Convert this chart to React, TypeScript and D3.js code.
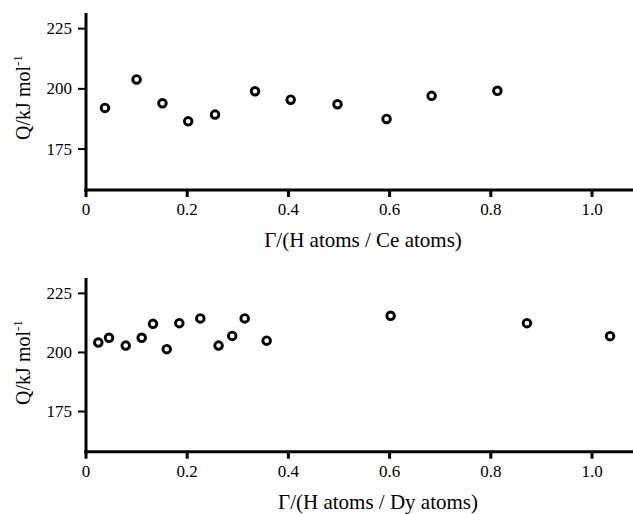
import React from "react";
import * as d3 from "d3";

const ceX = [0.0375, 0.1, 0.151, 0.202, 0.255, 0.334, 0.4045, 0.497, 0.594, 0.683, 0.813];
const ceQ = [192.1, 203.9, 194.0, 186.5, 189.3, 199.0, 195.5, 193.6, 187.5, 197.1, 199.2];

const dyX = [0.0243, 0.0455, 0.0785, 0.1101, 0.1324, 0.1595, 0.1844, 0.2259, 0.262, 0.289, 0.3136, 0.357, 0.602, 0.8715, 1.0356];
const dyQ = [204.2, 206.2, 202.9, 206.2, 212.1, 201.4, 212.4, 214.4, 202.9, 207.0, 214.4, 205.0, 215.5, 212.4, 206.9];

const xTicks = [0, 0.2, 0.4, 0.6, 0.8, 1.0];
const xTickLabels = ["0", "0.2", "0.4", "0.6", "0.8", "1.0"];
const yTicks = [175, 200, 225];

const FONT = "'Liberation Serif', 'Times New Roman', serif";

type PanelProps = {
  top: number;
  bottom: number;
  xs: number[];
  ys: number[];
  element: string;
  labelX: number;
};

function Panel({ top, bottom, xs, ys, element, labelX }: PanelProps) {
  const left = 86;
  const x = d3.scaleLinear().domain([0, 1.08]).range([left, 632.5]);
  const y = d3.scaleLinear().domain([158, 231.5]).range([bottom, top]);
  const pts = xs.map((v, i) => [v, ys[i]]);
  const midY = top + 84.5;
  return (
    <g>
      <line x1={left} x2={left} y1={top} y2={bottom + 1.5} stroke="#000" strokeWidth={3} />
      <line x1={left - 1.5} x2={633} y1={bottom} y2={bottom} stroke="#000" strokeWidth={3} />
      {yTicks.map((t) => (
        <g key={t}>
          <line x1={left - 8} x2={left} y1={y(t)} y2={y(t)} stroke="#000" strokeWidth={2} />
          <text x={left - 14} y={y(t) + 5.5} textAnchor="end" fontSize={17} fontFamily={FONT}>
            {t}
          </text>
        </g>
      ))}
      {xTicks.map((t, i) => (
        <g key={t}>
          <line x1={x(t)} x2={x(t)} y1={bottom} y2={bottom + 7} stroke="#000" strokeWidth={3} />
          <text x={x(t)} y={bottom + 25} textAnchor="middle" fontSize={17} fontFamily={FONT}>
            {xTickLabels[i]}
          </text>
        </g>
      ))}
      {pts.map(([a, b], i) => (
        <circle key={i} cx={x(a)} cy={y(b)} r={3.8} fill="#fff" stroke="#000" strokeWidth={2.9} />
      ))}
      <text x={labelX} y={bottom + 57} textAnchor="middle" fontSize={21} fontFamily={FONT}>
        {`Γ/(H atoms / ${element} atoms)`}
      </text>
      <text
        transform={`translate(29.5, ${midY}) rotate(-90)`}
        textAnchor="middle"
        fontSize={20}
        fontFamily={FONT}
      >
        Q/kJ mol
        <tspan fontSize={13} dy={-8}>-1</tspan>
      </text>
    </g>
  );
}

export default function App() {
  return (
    <svg
      width={633}
      height={514}
      style={{ position: "absolute", left: 0, top: 0, background: "#fff" }}
    >
      <rect width={633} height={514} fill="#fff" />
      <Panel top={13} bottom={190} xs={ceX} ys={ceQ} element="Ce" labelX={363} />
      <Panel top={278} bottom={451.7} xs={dyX} ys={dyQ} element="Dy" labelX={378} />
    </svg>
  );
}
